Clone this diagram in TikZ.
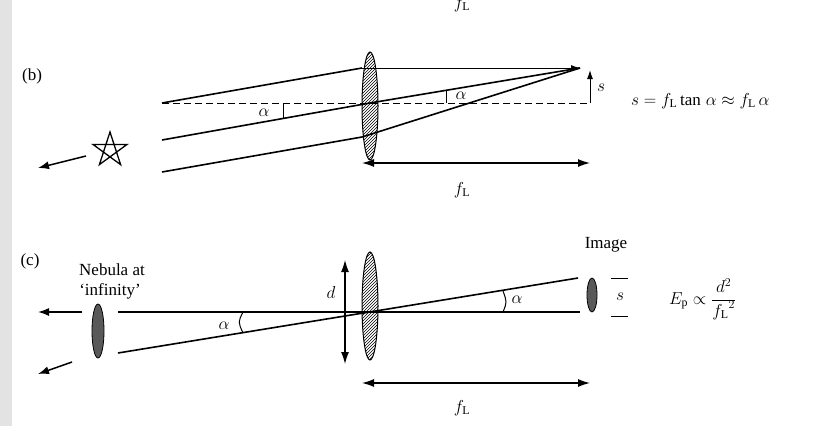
\documentclass[tikz,border=0pt]{standalone}
\usepackage{fontspec}
\setmainfont{Liberation Serif}
\usetikzlibrary{patterns,arrows.meta}
\begin{document}
\begin{tikzpicture}[x=1pt,y=-1pt,
  ray/.style={line width=1.6pt},
  thin ray/.style={line width=1pt},
  lens/.style={draw,line width=1pt,pattern=north east lines},
  blob/.style={draw,fill=black!65,line width=0.8pt},
  dim/.style={line width=1.2pt,{Latex[length=12pt,width=8pt]}-{Latex[length=12pt,width=8pt]}},
  lbl/.style={font=\fontsize{17}{19}\selectfont,inner sep=1pt}]
\useasboundingbox (0,0) rectangle (821,426);
\fill[white] (0,0) rectangle (821,426);
\fill[gray!22] (0,0) rectangle (12,426);
% ---------- (b)
\node[lbl] (ftop) at (462,4) {$f_{\mathrm L}$};
\node[lbl] (b) at (32,76) {(b)};
\draw[thin ray,dash pattern=on 7pt off 4pt] (162,103) -- (588,103);
\coordinate (F) at (580,68);
\draw[ray] (162,103) -- (362,68);
\draw[thin ray,-{Latex[length=9pt,width=6pt]}] (362,68) -- (F);
\draw[ray] (162,140) -- (370,103) -- (F);
\draw[ray] (162,172) -- (362,137) -- (F);
\draw[lens] (370,106) ellipse (8 and 54);
\draw[thin ray,-{Latex[length=9pt,width=6pt]}] (590,103) -- (590,70);
\node[lbl] (s1) at (601,88) {$s$};
\node[lbl,anchor=west] (eq1) at (630,101) {$s = f_{\mathrm L}\,\mathrm{tan}\;\alpha \approx f_{\mathrm L}\,\alpha$};
\draw[thin ray] (283,104) -- (283,119);
\node[lbl] (a1) at (264,113) {$\alpha$};
\draw[thin ray] (446,103) -- (446,90);
\node[lbl] (a2) at (461,96) {$\alpha$};
% star
\draw[line width=1.3pt] (110+0,150-18) -- (110+10.6,150+14.6) -- (110-17.1,150-5.6) -- (110+17.1,150-5.6) -- (110-10.6,150+14.6) -- cycle;
\draw[line width=1.5pt,-{Latex[length=11pt,width=8pt]}] (86,156) -- (38,168);
\coordinate (d1a) at (362,163); \coordinate (d1b) at (590,163);
\draw[dim] (d1a) -- (d1b);
\node[lbl] (fb) at (462,190) {$f_{\mathrm L}$};
% ---------- (c)
\node[lbl] (c) at (30,261) {(c)};
\node[lbl] (neb1) at (112,270) {Nebula at};
\node[lbl] (neb2) at (110,291) {`infinity'};
\draw[blob] (98,331) ellipse (6 and 27);
\draw[ray] (118,312) -- (580,312);
\draw[ray] (118,353) -- (578,278);
\draw[lens] (370,306) ellipse (8 and 54);
\draw[dim] (345,260) -- (345,364);
\node[lbl] (d) at (331,292) {$d$};
\draw[line width=1.5pt,-{Latex[length=11pt,width=8pt]}] (82,312) -- (38,312);
\draw[line width=1.5pt,-{Latex[length=11pt,width=8pt]}] (72,362) -- (38,374);
\draw[thin ray] (243,312) .. controls (238,322) .. (243,333);
\node[lbl] (a3) at (224,326) {$\alpha$};
\draw[thin ray] (503,312) .. controls (507,302) .. (503,291);
\node[lbl] (a4) at (517,300) {$\alpha$};
\draw[blob] (592,295) ellipse (5 and 17);
\draw[thin ray] (611,278) -- (628,278);
\draw[thin ray] (611,316) -- (628,316);
\node[lbl] (s2) at (620,297) {$s$};
\node[lbl] (img) at (606,245) {Image};
\node[lbl,anchor=west] (eq2) at (668,299) {$E_{\mathrm p} \propto \displaystyle\frac{d^2}{{f_{\mathrm L}}^2}$};
\coordinate (d2a) at (362,383); \coordinate (d2b) at (590,383);
\draw[dim] (d2a) -- (d2b);
\node[lbl] (fc) at (462,408) {$f_{\mathrm L}$};
\end{tikzpicture}
\end{document}
